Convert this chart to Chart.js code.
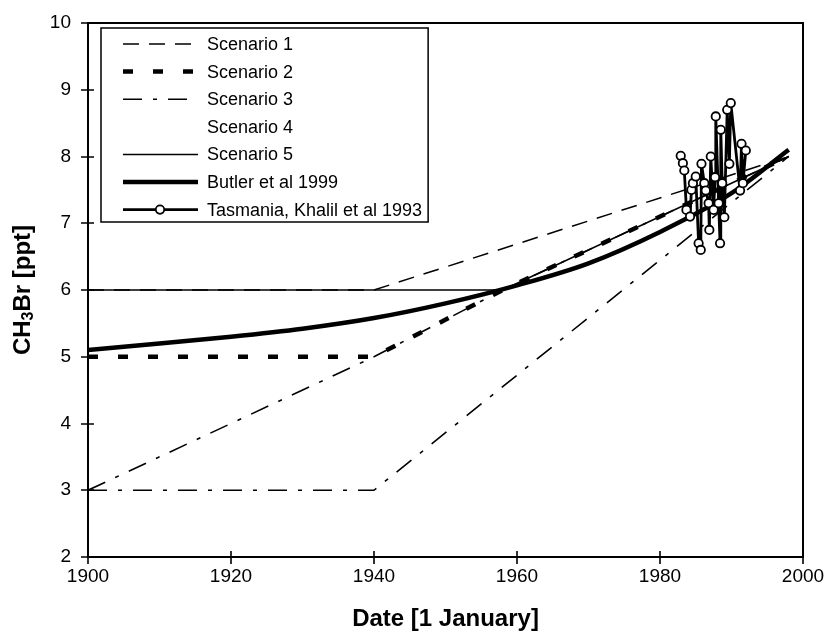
<!DOCTYPE html>
<html>
<head>
<meta charset="utf-8">
<script src="https://cdn.jsdelivr.net/npm/chart.js@4.4.1/dist/chart.umd.min.js"></script>
<style>
  html, body { margin: 0; padding: 0; background: #fff; }
  #wrap { width: 828px; height: 636px; }
</style>
</head>
<body>
<div id="wrap"><canvas id="c" width="828" height="636"></canvas></div>
<script>
const FONT = '"Liberation Sans", Arial, Helvetica, sans-serif';

// Axis ticks
const xTicks = [1900, 1920, 1940, 1960, 1980, 2000];
const yTicks = [2, 3, 4, 5, 6, 7, 8, 9, 10];

// Scenario histories of CH3Br (ppt) by year
const scenario1Years = [1900, 1940, 1998];
const scenario1Values = [6, 6, 8];
const scenario2Years = [1900, 1940, 1958, 1998];
const scenario2Values = [5, 5, 6, 8];
const scenario3Years = [1900, 1940, 1998];
const scenario3Values = [3, 3, 8];
const scenario4Years = [1900, 1940, 1958, 1998];
const scenario4Values = [3, 5, 6, 8];
const scenario5Years = [1900, 1958, 1998];
const scenario5Values = [6, 6, 8];

// Butler et al 1999 reconstruction
const butlerYears = [1900, 1910, 1920, 1930, 1940, 1950, 1960, 1970, 1980, 1990, 1998];
const butlerValues = [5.1, 5.2, 5.3, 5.42, 5.58, 5.8, 6.07, 6.4, 6.87, 7.45, 8.1];

// Tasmania measurements, Khalil et al 1993
const tasmaniaYears = [1982.9, 1983.2, 1983.4, 1983.7, 1984.2, 1984.4, 1984.6, 1985.0, 1985.4, 1985.7,
  1985.8, 1986.2, 1986.4, 1986.8, 1986.9, 1987.1, 1987.5, 1987.7, 1987.8, 1988.2,
  1988.4, 1988.5, 1988.7, 1989.0, 1989.4, 1989.7, 1989.9, 1991.2, 1991.4, 1991.6, 1992.0];
const tasmaniaValues = [8.01, 7.90, 7.79, 7.20, 7.10, 7.50, 7.60, 7.70, 6.70, 6.60,
  7.89, 7.60, 7.49, 7.30, 6.90, 8.00, 7.20, 7.69, 8.60, 7.30,
  6.70, 8.40, 7.60, 7.09, 8.70, 7.89, 8.80, 7.49, 8.19, 7.60, 8.09];

const legendLabels = ['Scenario 1', 'Scenario 2', 'Scenario 3', 'Scenario 4', 'Scenario 5',
  'Butler et al 1999', 'Tasmania, Khalil et al 1993'];

const pts = (xs, ys) => xs.map((x, i) => ({ x: x, y: ys[i] }));

// Line styles for each series (also used by the legend samples)
const styles = [
  { width: 1.5, dash: [16, 10] },
  { width: 4.5, dash: [10, 20] },
  { width: 1.6, dash: [19, 11, 4, 11] },
  { width: 1.6, dash: [19, 11, 4, 11], hideSample: true },
  { width: 1.5, dash: [] },
  { width: 4.5, dash: [] },
  { width: 2.8, dash: [], marker: true }
];

const series = [
  pts(scenario1Years, scenario1Values),
  pts(scenario2Years, scenario2Values),
  pts(scenario3Years, scenario3Values),
  pts(scenario4Years, scenario4Values),
  pts(scenario5Years, scenario5Values),
  pts(butlerYears, butlerValues),
  pts(tasmaniaYears, tasmaniaValues)
];

const datasets = series.map((data, i) => {
  const s = styles[i];
  return {
    label: legendLabels[i],
    data: data,
    borderColor: '#000',
    backgroundColor: '#fff',
    borderWidth: s.width,
    borderDash: s.dash,
    borderCapStyle: 'butt',
    borderJoinStyle: 'round',
    fill: false,
    tension: 0,
    cubicInterpolationMode: i === 5 ? 'monotone' : 'default',
    pointRadius: s.marker ? 4.2 : 0,
    pointBorderWidth: s.marker ? 1.8 : 0,
    pointBackgroundColor: '#fff',
    pointBorderColor: '#000',
    order: s.marker ? 0 : 10 - i
  };
});

// Frame, crossing ticks, legend box and axis titles
const decorations = {
  id: 'decorations',
  afterDraw(chart) {
    const ctx = chart.ctx;
    const a = chart.chartArea;
    const xs = chart.scales.x, ys = chart.scales.y;
    ctx.save();
    ctx.strokeStyle = '#000';
    ctx.setLineDash([]);

    // plot frame
    ctx.lineWidth = 2;
    ctx.strokeRect(a.left, a.top, a.right - a.left, a.bottom - a.top);

    // ticks crossing the axes
    ctx.lineWidth = 1.6;
    ctx.beginPath();
    xTicks.forEach(v => {
      const px = Math.round(xs.getPixelForValue(v));
      ctx.moveTo(px, a.bottom - 6);
      ctx.lineTo(px, a.bottom + 7);
    });
    yTicks.forEach(v => {
      const py = Math.round(ys.getPixelForValue(v));
      ctx.moveTo(a.left - 7, py);
      ctx.lineTo(a.left + 6, py);
    });
    ctx.stroke();

    // legend
    ctx.font = '18px ' + FONT;
    let textW = 0;
    legendLabels.forEach(l => { textW = Math.max(textW, ctx.measureText(l).width); });
    const bx = 101, by = 28, bw = 207 + textW + 6 - bx, bh = 194;
    ctx.fillStyle = '#fff';
    ctx.fillRect(bx, by, bw, bh);
    ctx.lineWidth = 1.5;
    ctx.strokeRect(bx, by, bw, bh);
    ctx.textBaseline = 'middle';
    ctx.textAlign = 'left';
    legendLabels.forEach((lab, i) => {
      const y = 44 + 27.6 * i;
      const s = styles[i];
      if (!s.hideSample) {
        ctx.lineWidth = s.width;
        ctx.setLineDash(s.dash);
        ctx.lineCap = 'butt';
        ctx.beginPath();
        ctx.moveTo(123, y);
        ctx.lineTo(198, y);
        ctx.stroke();
        ctx.setLineDash([]);
        if (s.marker) {
          ctx.lineWidth = 1.8;
          ctx.beginPath();
          ctx.arc(160, y, 4.2, 0, Math.PI * 2);
          ctx.fillStyle = '#fff';
          ctx.fill();
          ctx.stroke();
        }
      }
      ctx.fillStyle = '#000';
      ctx.fillText(lab, 207, y + 1);
    });

    // x axis title
    ctx.font = 'bold 24px ' + FONT;
    ctx.textAlign = 'center';
    ctx.textBaseline = 'middle';
    ctx.fillText('Date [1 January]', (a.left + a.right) / 2, 619);

    // y axis title with subscript
    const big = 'bold 24px ' + FONT, small = 'bold 16px ' + FONT;
    const parts = [['CH', big, 0], ['3', small, 6], ['Br [ppt]', big, 0]];
    let total = 0;
    parts.forEach(p => { ctx.font = p[1]; total += ctx.measureText(p[0]).width; });
    ctx.translate(23, (a.top + a.bottom) / 2);
    ctx.rotate(-Math.PI / 2);
    ctx.textAlign = 'left';
    let cx = -total / 2;
    parts.forEach(p => {
      ctx.font = p[1];
      ctx.fillText(p[0], cx, p[2]);
      cx += ctx.measureText(p[0]).width;
    });
    ctx.restore();
  }
};

const noScalePadding = s => {
  s.paddingTop = 0; s.paddingBottom = 0; s.paddingLeft = 0; s.paddingRight = 0;
};

new Chart(document.getElementById('c'), {
  type: 'line',
  data: { datasets: datasets },
  options: {
    responsive: false,
    animation: false,
    devicePixelRatio: 1,
    layout: { padding: { top: 23, right: 25, left: 0, bottom: 0 } },
    plugins: { legend: { display: false }, tooltip: { enabled: false } },
    scales: {
      x: {
        type: 'linear',
        min: 1900, max: 2000,
        afterBuildTicks: s => { s.ticks = xTicks.map(v => ({ value: v })); },
        afterFit: s => { s.height = 79; noScalePadding(s); },
        grid: { display: false, drawTicks: false },
        border: { display: false },
        ticks: { color: '#000', font: { family: FONT, size: 19 }, padding: 8, maxRotation: 0,
                 callback: v => String(v) }
      },
      y: {
        type: 'linear',
        min: 2, max: 10,
        afterBuildTicks: s => { s.ticks = yTicks.map(v => ({ value: v })); },
        afterFit: s => { s.width = 88; noScalePadding(s); },
        grid: { display: false, drawTicks: false },
        border: { display: false },
        ticks: { color: '#000', font: { family: FONT, size: 19 }, padding: 17 }
      }
    }
  },
  plugins: [decorations]
});
</script>
</body>
</html>
